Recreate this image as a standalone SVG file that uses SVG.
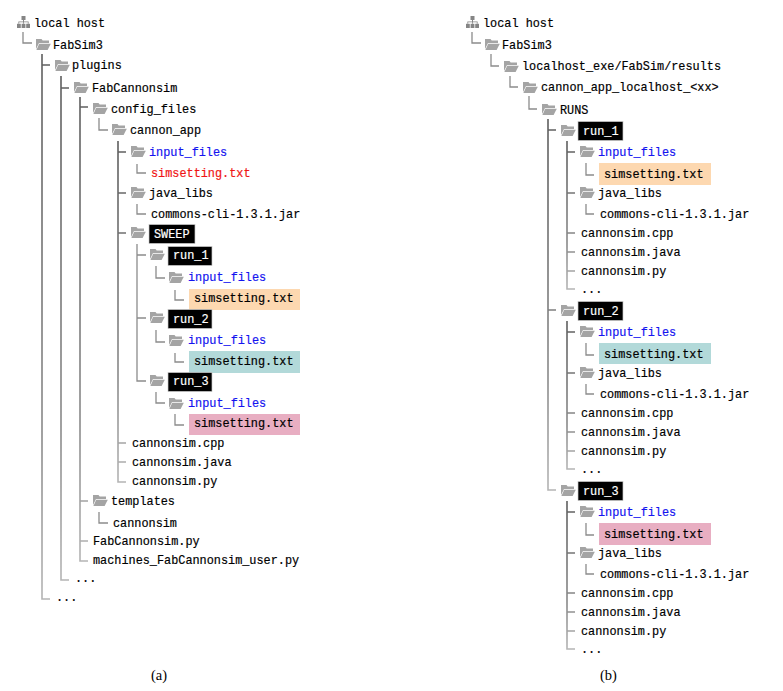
<svg xmlns="http://www.w3.org/2000/svg" width="783" height="691" viewBox="0 0 783 691">
<style>
text{font-family:"Liberation Mono","DejaVu Sans Mono",monospace;font-size:11.85px;fill:#000;stroke:#000;stroke-width:.18}
.cap{font-family:"Liberation Serif","Times New Roman",serif;font-size:14.500px;stroke:none}
.blue{fill:#1414f0;stroke:#1414f0}.red{fill:#f01414;stroke:#f01414}.w{fill:#fff;stroke:#fff}
.box{fill:#000;stroke:#ccc;stroke-width:.7}
.or{fill:#fdd8b0}.te{fill:#b2d9d9}.pk{fill:#e8aec2}
#connectors path{fill:none;stroke:#8c8c8c;stroke-width:1.3}
#connectors .tr{stroke:url(#fade);stroke-width:1.6}
</style>
<defs>
<linearGradient id="fade" x1="0" y1="0" x2="0" y2="1"><stop offset="0" stop-color="#5e5e5e"/><stop offset=".7" stop-color="#8a8a8a"/><stop offset="1" stop-color="#b4b4b4"/></linearGradient>
<g id="folder" fill="#a4a4a4"><path d="M0 1h5.500l1.200 1.600h6.300v2.400H3L0 11z"/><path d="M3.200 5.800H14.800L11.600 12H.4z"/></g>
<g id="host" fill="#858585"><rect x="4.500" y="0" width="4" height="4"/><rect x="0" y="7.800" width="3.800" height="4.200"/><rect x="4.600" y="7.800" width="3.800" height="4.200"/><rect x="9.200" y="7.800" width="3.800" height="4.200"/><path d="M6 4h1v1.500h4.600v2.300h-.8V6.300H6.900v1.500h-.8V6.300H2.200v1.500h-.8V5.500H6z"/></g>
</defs>
<g id="connectors">
<path d="M23 32V43H32"/>
<path class="tr" d="M42 54V599H50M42 65H50"/>
<path class="tr" d="M61 76V580H69M61 88H69"/>
<path class="tr" d="M80 97V561H88M80 107H88M80 501H88M80 541H88"/>
<path d="M99 118V130H108M99 512V523H108"/>
<path class="tr" d="M118 141V482H126M118 152H126M118 193H126M118 233H126M118 443H126M118 462H126"/>
<path d="M137 164V173H146M137 204V214H146"/>
<path d="M137 244V381H146M137 255H146M137 318H146"/>
<path d="M156 266V278H165M156 330V342H165M156 392V403H165"/>
<path d="M175 290V300H184M175 353V362H184M175 414V425H184"/>
<path d="M472 32V43H481M491 54V66H499M510 76V87H518M529 96V109H537"/>
<path class="tr" d="M548 119V490H556M548 130H556M548 310H556"/>
<path class="tr" d="M567 141V289H575M567 152H575M567 193H575M567 233H575M567 252H575M567 271H575"/>
<path class="tr" d="M567 321V469H575M567 332H575M567 373H575M567 413H575M567 432H575M567 451H575"/>
<path class="tr" d="M567 501V649H575M567 512H575M567 553H575M567 593H575M567 612H575M567 631H575"/>
<path d="M586 163V175H594M586 204V214H594M586 343V355H594M586 384V394H594M586 523V535H594M586 564V574H594"/>
</g>
<g id="tree-a">
<g id="a-host"><use href="#host" x="17" y="16"/><text x="34" y="27">local host</text></g>
<g id="a-fabsim3"><use href="#folder" x="36" y="38"/><text x="53" y="49">FabSim3</text></g>
<g id="a-plugins"><use href="#folder" x="55" y="59"/><text x="72" y="69">plugins</text></g>
<g id="a-fabcannonsim"><use href="#folder" x="74" y="81"/><text x="92" y="92">FabCannonsim</text></g>
<g id="a-config"><use href="#folder" x="93" y="102"/><text x="111" y="113">config_files</text></g>
<g id="a-cannonapp"><use href="#folder" x="112" y="123"/><text x="130" y="134">cannon_app</text></g>
<g id="a-input"><use href="#folder" x="131" y="145"/><text x="149" y="156" class="blue">input_files</text></g>
<g id="a-sim"><text x="151" y="177" class="red">simsetting.txt</text></g>
<g id="a-java"><use href="#folder" x="131" y="186"/><text x="149" y="197">java_libs</text></g>
<g id="a-commons"><text x="151" y="218">commons-cli-1.3.1.jar</text></g>
<g id="a-sweep"><use href="#folder" x="131" y="226"/><rect class="box" x="149" y="224.500" width="46" height="19"/><text x="154" y="238" class="w">SWEEP</text></g>
<g id="a-run1"><use href="#folder" x="150" y="248"/><rect class="box" x="168" y="246.500" width="44" height="19"/><text x="173" y="259" class="w">run_1</text></g>
<g id="a-run1-input"><use href="#folder" x="169" y="271"/><text x="188" y="281" class="blue">input_files</text></g>
<g id="a-run1-sim"><rect class="or" x="189" y="289" width="111" height="21"/><text x="194" y="302">simsetting.txt</text></g>
<g id="a-run2"><use href="#folder" x="150" y="311"/><rect class="box" x="168" y="309.500" width="44" height="19"/><text x="173" y="323" class="w">run_2</text></g>
<g id="a-run2-input"><use href="#folder" x="169" y="334"/><text x="188" y="344" class="blue">input_files</text></g>
<g id="a-run2-sim"><rect class="te" x="189" y="351" width="111" height="22"/><text x="194" y="365">simsetting.txt</text></g>
<g id="a-run3"><use href="#folder" x="150" y="374"/><rect class="box" x="168" y="372.500" width="44" height="19"/><text x="173" y="385" class="w">run_3</text></g>
<g id="a-run3-input"><use href="#folder" x="169" y="397"/><text x="188" y="407" class="blue">input_files</text></g>
<g id="a-run3-sim"><rect class="pk" x="189" y="414" width="111" height="21"/><text x="194" y="427">simsetting.txt</text></g>
<g id="a-cpp"><text x="132" y="447">cannonsim.cpp</text></g>
<g id="a-javaf"><text x="132" y="466">cannonsim.java</text></g>
<g id="a-py"><text x="132" y="485">cannonsim.py</text></g>
<g id="a-templates"><use href="#folder" x="93" y="494"/><text x="111" y="505">templates</text></g>
<g id="a-cannonsim"><text x="113" y="527">cannonsim</text></g>
<g id="a-fabpy"><text x="93" y="545">FabCannonsim.py</text></g>
<g id="a-machines"><text x="93" y="564">machines_FabCannonsim_user.py</text></g>
<g id="a-dots1"><text x="75" y="582">...</text></g>
<g id="a-dots2"><text x="56" y="601">...</text></g>
<text class="cap" x="151" y="680">(a)</text>
</g>
<g id="tree-b">
<g id="b-host"><use href="#host" x="466" y="16"/><text x="483" y="27">local host</text></g>
<g id="b-fabsim3"><use href="#folder" x="485" y="38"/><text x="502" y="49">FabSim3</text></g>
<g id="b-results"><use href="#folder" x="504" y="60"/><text x="522" y="70">localhost_exe/FabSim/results</text></g>
<g id="b-app"><use href="#folder" x="523" y="81"/><text x="541" y="91">cannon_app_localhost_&lt;xx&gt;</text></g>
<g id="b-runs"><use href="#folder" x="542" y="103"/><text x="560" y="114">RUNS</text></g>
<g id="b-run1"><use href="#folder" x="561" y="124"/><rect class="box" x="578" y="121.500" width="45" height="19"/><text x="583" y="135" class="w">run_1</text></g>
<g id="b-run1-input"><use href="#folder" x="580" y="145"/><text x="598" y="156" class="blue">input_files</text></g>
<g id="b-run1-sim"><rect class="or" x="599" y="163" width="112" height="22"/><text x="604" y="178">simsetting.txt</text></g>
<g id="b-run1-java"><use href="#folder" x="580" y="186"/><text x="598" y="197">java_libs</text></g>
<g id="b-run1-commons"><text x="600" y="218">commons-cli-1.3.1.jar</text></g>
<g id="b-run1-cpp"><text x="581" y="237">cannonsim.cpp</text></g>
<g id="b-run1-javaf"><text x="581" y="256">cannonsim.java</text></g>
<g id="b-run1-py"><text x="581" y="275">cannonsim.py</text></g>
<g id="b-run1-dots"><text x="581" y="293">...</text></g>
<g id="b-run2"><use href="#folder" x="561" y="304"/><rect class="box" x="578" y="301.500" width="45" height="19"/><text x="583" y="315" class="w">run_2</text></g>
<g id="b-run2-input"><use href="#folder" x="580" y="325"/><text x="598" y="336" class="blue">input_files</text></g>
<g id="b-run2-sim"><rect class="te" x="599" y="343" width="112" height="21"/><text x="604" y="358">simsetting.txt</text></g>
<g id="b-run2-java"><use href="#folder" x="580" y="366"/><text x="598" y="377">java_libs</text></g>
<g id="b-run2-commons"><text x="600" y="398">commons-cli-1.3.1.jar</text></g>
<g id="b-run2-cpp"><text x="581" y="417">cannonsim.cpp</text></g>
<g id="b-run2-javaf"><text x="581" y="436">cannonsim.java</text></g>
<g id="b-run2-py"><text x="581" y="455">cannonsim.py</text></g>
<g id="b-run2-dots"><text x="581" y="473">...</text></g>
<g id="b-run3"><use href="#folder" x="561" y="484"/><rect class="box" x="578" y="481.500" width="45" height="19"/><text x="583" y="495" class="w">run_3</text></g>
<g id="b-run3-input"><use href="#folder" x="580" y="505"/><text x="598" y="516" class="blue">input_files</text></g>
<g id="b-run3-sim"><rect class="pk" x="599" y="523" width="112" height="22"/><text x="604" y="538">simsetting.txt</text></g>
<g id="b-run3-java"><use href="#folder" x="580" y="546"/><text x="598" y="557">java_libs</text></g>
<g id="b-run3-commons"><text x="600" y="578">commons-cli-1.3.1.jar</text></g>
<g id="b-run3-cpp"><text x="581" y="597">cannonsim.cpp</text></g>
<g id="b-run3-javaf"><text x="581" y="616">cannonsim.java</text></g>
<g id="b-run3-py"><text x="581" y="635">cannonsim.py</text></g>
<g id="b-run3-dots"><text x="581" y="653">...</text></g>
<text class="cap" x="600" y="680">(b)</text>
</g>
</svg>
